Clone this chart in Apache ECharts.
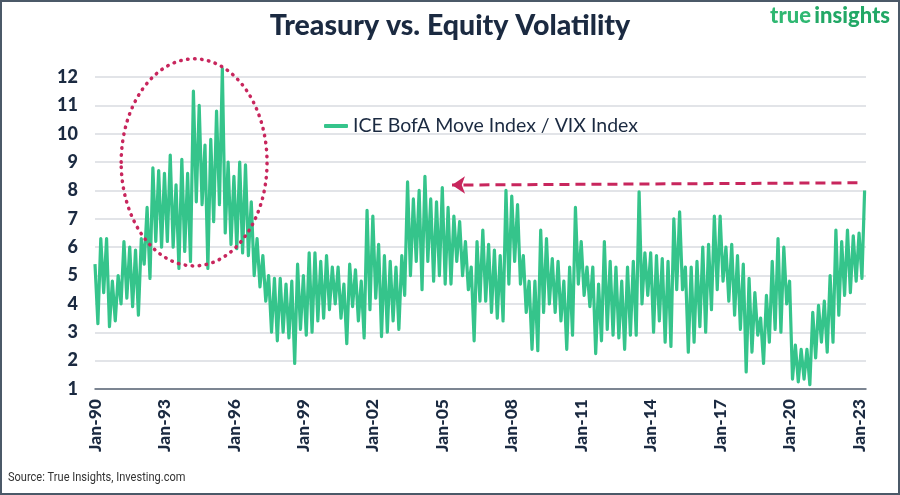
<!DOCTYPE html>
<html>
<head>
<meta charset="utf-8">
<script src="https://cdn.jsdelivr.net/npm/echarts@6/dist/echarts.min.js"></script>
<style>
  html, body { margin: 0; padding: 0; background: #fff; }
  #chart { width: 900px; height: 495px; }
</style>
</head>
<body>
<div id="chart"></div>
<script>
// quarterly high / low of the ratio, 1990Q1 .. 2023Q1
var qHigh = [
  5.4, 6.3, 6.3, 4.8,   5.0, 6.2, 6.0, 5.9,   6.3, 7.4, 8.8, 8.7,   8.6, 9.25, 8.2, 9.1,
  8.6, 11.5, 11.0, 9.6, 9.8, 10.8, 12.3, 9.0, 8.5, 9.0, 8.9, 7.6,   6.3, 5.7, 5.0, 4.9,
  4.9, 4.7, 4.8, 5.4,   5.0, 5.8, 5.8, 5.5,   5.7, 5.3, 5.3, 4.7,   5.4, 5.2, 4.8, 7.3,
  7.1, 6.1, 5.7, 5.5,   5.3, 5.7, 8.3, 7.7,   8.0, 8.5, 7.7, 7.6,   8.1, 7.4, 7.1, 6.9,
  6.2, 5.3, 6.2, 6.6,   6.1, 5.9, 5.7, 8.0,   7.8, 7.5, 5.7, 4.8,   4.8, 6.6, 6.3, 5.6,
  5.5, 4.8, 5.3, 7.4,   6.2, 5.3, 5.3, 4.7,   6.2, 5.5, 5.3, 4.8,   5.3, 5.5, 7.95, 5.8,
  5.8, 5.7, 5.6, 5.5,   7.0, 7.25, 5.3, 5.3,  5.5, 6.0, 6.1, 7.1,   7.1, 6.0, 6.1, 5.7,
  5.4, 4.9, 4.4, 3.5,   4.3, 5.5, 6.3, 6.0,   4.8, 2.55, 2.4, 2.4,  3.7, 3.95, 4.1, 5.0,
  6.6, 6.2, 6.6, 6.4,   6.5
];
var qLow = [
  3.3, 4.4, 3.2, 3.4,   4.0, 4.2, 3.9, 3.6,   5.4, 4.9, 6.2, 6.0,   6.2, 6.0, 5.25, 5.85,
  5.5, 7.6, 7.5, 5.25,  6.9, 7.5, 6.5, 6.1,   5.95, 5.8, 5.7, 5.0,  4.6, 4.1, 3.0, 2.7,
  3.0, 2.8, 1.9, 3.1,   2.9, 3.0, 3.4, 3.5,   3.8, 4.0, 3.5, 2.6,   3.9, 3.4, 2.8, 3.8,
  4.2, 2.85, 3.0, 3.4,  3.1, 4.3, 5.0, 5.5,   4.5, 5.5, 4.8, 5.0,   4.7, 4.7, 5.5, 5.0,
  4.5, 2.7, 4.1, 4.1,   3.7, 3.5, 3.4, 4.7,   5.5, 4.7, 3.7, 2.4,   2.35, 3.7, 4.0, 3.7,
  3.4, 2.4, 2.9, 4.7,   4.3, 3.9, 2.25, 2.7,  3.1, 2.9, 2.8, 2.4,   2.9, 2.9, 4.0, 4.3,
  3.0, 3.4, 2.65, 2.5,  4.5, 4.5, 2.3, 2.65,  3.2, 3.0, 3.8, 4.5,   4.8, 4.1, 3.6, 3.1,
  1.6, 2.3, 2.9, 1.9,   2.65, 3.1, 3.0, 4.0,  1.35, 1.25, 1.35, 1.15, 2.1, 2.65, 2.3, 2.65,
  3.6, 4.3, 4.4, 4.8,   4.9
];
var lastValue = 8.0;      // final reading, Mar-23
var startYear = 1990;
var yTicks = [1, 2, 3, 4, 5, 6, 7, 8, 9, 10, 11, 12];
var seriesName = 'ICE BofA Move Index / VIX Index';

// x = years since Jan-90
var points = [];
for (var i = 0; i < qHigh.length; i++) {
  var t = i / 4;
  points.push([t, qHigh[i]]);
  points.push([t + 0.125, qLow[i]]);
}
points.push([33.24, lastValue]);

var green = '#35c48b';
var red = '#c8265d';
var navy = '#1b2a41';

var chart = echarts.init(document.getElementById('chart'));
var option = {
  animation: false,
  title: {
    text: 'Treasury vs. Equity Volatility',
    left: 'center',
    top: 6,
    textStyle: { fontFamily: 'Lato', fontWeight: 900, fontSize: 28.5, color: navy }
  },
  legend: {
    data: [seriesName],
    left: 319,
    top: 111,
    icon: 'roundRect',
    itemWidth: 24,
    itemHeight: 4,
    itemGap: 5,
    textStyle: { fontFamily: 'Lato', fontSize: 19.5, color: navy }
  },
  grid: { left: 95, right: 34, top: 77, bottom: 106 },
  xAxis: {
    type: 'value',
    min: 0,
    max: 33.3,
    interval: 3,
    axisLine: { lineStyle: { color: '#5b6675', width: 1.5 } },
    axisTick: { show: false },
    splitLine: { show: false },
    axisLabel: {
      rotate: 90,
      margin: 10,
      fontFamily: 'Lato',
      fontWeight: 900,
      fontSize: 17.5,
      color: navy,
      showMaxLabel: false,
      formatter: function (v) {
        if (v % 3 !== 0) return '';
        var yy = (startYear + v) % 100;
        return 'Jan-' + (yy < 10 ? '0' + yy : yy);
      }
    }
  },
  yAxis: {
    type: 'value',
    min: yTicks[0],
    max: yTicks[yTicks.length - 1],
    interval: 1,
    axisLine: { show: false },
    axisTick: { show: false },
    splitLine: { lineStyle: { color: '#d9dbe0', width: 1.5 } },
    axisLabel: {
      margin: 17,
      fontFamily: 'Lato',
      fontWeight: 900,
      fontSize: 18,
      color: navy
    }
  },
  series: [{
    name: seriesName,
    type: 'line',
    data: points,
    showSymbol: false,
    clip: false,
    lineStyle: { color: green, width: 3.2, join: 'round' },
    itemStyle: { color: green },
    markLine: {
      silent: true,
      symbol: ['none', 'arrow'],
      symbolSize: 13,
      label: { show: false },
      lineStyle: { color: red, width: 3, type: [10, 6] },
      data: [[{ coord: [32.93, 8.27] }, { coord: [15.42, 8.19] }]]
    }
  }]
};
chart.setOption(option);

// dotted ellipse round the 1992-97 hump, placed in data space
var c = chart.convertToPixel({ gridIndex: 0 }, [4.28, 8.99]);
var e = chart.convertToPixel({ gridIndex: 0 }, [4.28 + 3.15, 8.99 - 3.65]);
chart.setOption({
  graphic: [
    {
      type: 'ellipse',
      z: 100,
      shape: { cx: c[0], cy: c[1], rx: e[0] - c[0], ry: e[1] - c[1] },
      style: { fill: null, stroke: red, lineWidth: 3.5, lineDash: [0.5, 6.5], lineCap: 'round' }
    },
    {
      type: 'text',
      right: 10,
      top: 5,
      style: {
        text: '{a|true} {b|insights}',
        rich: {
          a: { fontFamily: 'Lato', fontWeight: 900, fontSize: 22, fill: '#2fb872' },
          b: { fontFamily: 'Lato', fontWeight: 900, fontSize: 22, fill: '#22a866' }
        }
      }
    },
    {
      type: 'text',
      left: 8,
      top: 472,
      scaleX: 0.92,
      style: {
        text: 'Source: True Insights, Investing.com',
        fontFamily: 'Roboto',
        fontSize: 12,
        fill: '#333'
      }
    },
    {
      type: 'rect',
      z: 100,
      shape: { x: 1, y: 1, width: 898, height: 493 },
      style: { fill: null, stroke: '#4b5968', lineWidth: 2 }
    }
  ]
});
</script>
</body>
</html>
